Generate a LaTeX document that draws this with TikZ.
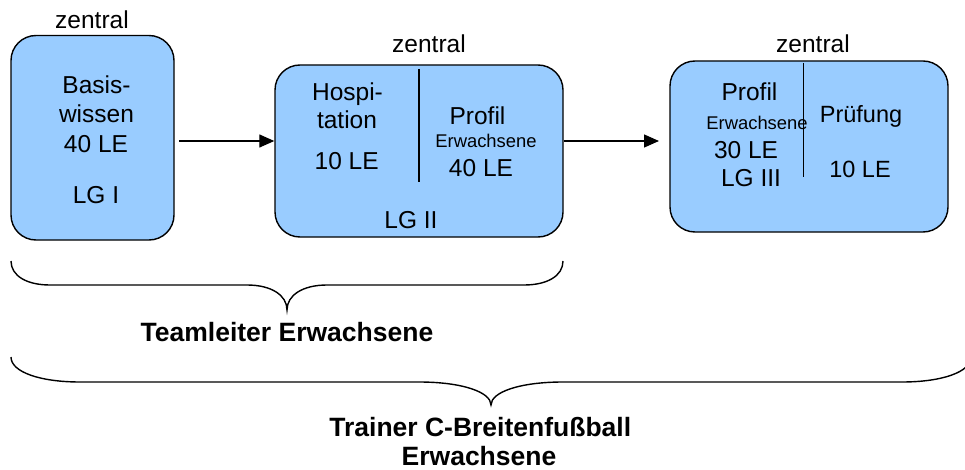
\documentclass[tikz,border=0pt]{standalone}
\usepackage{fontspec}
\setmainfont{Liberation Sans}
\usetikzlibrary{arrows.meta}
\definecolor{boxblue}{HTML}{99CCFF}
\tikzset{
  box/.style={draw=black, line width=1.4pt, fill=boxblue, rounded corners=25pt, inner sep=0pt},
  txt/.style={anchor=base, inner sep=0pt, font=\fontsize{24.5}{29}\selectfont},
  txtsm/.style={anchor=base, inner sep=0pt, font=\fontsize{18.4}{22}\selectfont},
  txtb/.style={anchor=base, inner sep=0pt, font=\fontsize{26.5}{30}\selectfont\bfseries},
  arr/.style={line width=1.3pt, -{Triangle[length=15pt,width=13pt]}},
  divider/.style={line width=1.5pt},
  bracepath/.style={line width=1.4pt}
}
\begin{document}
\begin{tikzpicture}[x=1pt,y=-1pt]
\useasboundingbox (0,0) rectangle (965,470);
\clip (0,0) rectangle (965,470);
% boxes
\node[box, minimum width=163pt, minimum height=204.5pt] (b1) at (92.5,137.75) {};
\node[box, minimum width=288pt, minimum height=172pt] (b2) at (419,151) {};
\node[box, minimum width=278pt, minimum height=171pt] (b3) at (809,146.5) {};
% zentral labels
\node[txt] (z1) at (92,28.3) {zentral};
\node[txt] (z2) at (429,52.7) {zentral};
\node[txt] (z3) at (813,52.7) {zentral};
% box 1 text
\node[txt] (t1a) at (96.5,94) {Basis-};
\node[txt] (t1b) at (96.5,123) {wissen};
\node[txt] (t1c) at (96,153) {40 LE};
\node[txt] (t1d) at (96,204) {LG I};
% box 2 text
\draw[divider] (419,69) coordinate (d2a) -- (419,182) coordinate (d2b);
\node[txt] (t2a) at (347.5,101) {Hospi-};
\node[txt] (t2b) at (347,129) {tation};
\node[txt] (t2c) at (346.7,170) {10 LE};
\node[txt] (t2d) at (477.5,125) {Profil};
\node[txtsm] (t2e) at (486,148) {Erwachsene};
\node[txt] (t2f) at (481,176.7) {40 LE};
\node[txt] (t2g) at (411,229) {LG II};
% box 3 text
\node[txt] (t3a) at (749.5,100.7) {Profil};
\node[txtsm] (t3b) at (757,130) {Erwachsene};
\node[txt] (t3c) at (746,159) {30 LE};
\node[txt] (t3d) at (751,187) {LG III};
\node[txt, font=\fontsize{23.5}{28}\selectfont] (t3e) at (861,123) {Prüfung};
\node[txt, font=\fontsize{23.5}{28}\selectfont] (t3f) at (860,178) {10 LE};
\draw[divider] (803.3,63) coordinate (d3a) -- (803.3,177) coordinate (d3b);
% arrows
\coordinate (a1s) at (179,141);
\draw[arr] (a1s) -- (b2.west |- a1s);
\coordinate (a2e) at (659,141);
\draw[arr] (b2.east |- a2e) -- (a2e);
% brace 1
\draw[bracepath] (11,261) .. controls (11,276) and (27,285) .. (50,285) -- (247,285)
  .. controls (271,285) and (287,295) .. (287,310)
  .. controls (287,295) and (303,285) .. (327,285) -- (524,285)
  .. controls (547,285) and (563,276) .. (563,261);
\node[txtb] (l1) at (287,341.7) {Teamleiter Erwachsene};
% brace 2
\draw[bracepath] (11,357) .. controls (11,372) and (40,382) .. (80,382) -- (419,382)
  .. controls (462,382) and (491,392) .. (491,405)
  .. controls (491,392) and (520,382) .. (563,382) -- (902,382)
  .. controls (942,382) and (971,372) .. (971,357);
\node[txtb] (l2a) at (480.3,436.7) {Trainer C-Breitenfußball};
\node[txtb] (l2b) at (479,465) {Erwachsene};
\end{tikzpicture}
\end{document}
